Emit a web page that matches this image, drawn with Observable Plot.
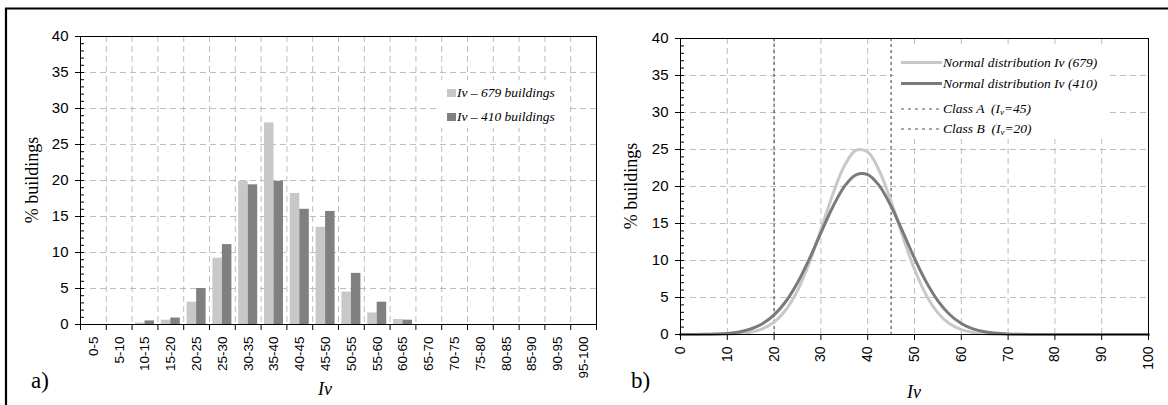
<!DOCTYPE html>
<html><head><meta charset="utf-8">
<script src="https://cdn.jsdelivr.net/npm/d3@7"></script>
<script src="https://cdn.jsdelivr.net/npm/@observablehq/plot@0.6"></script>
<style>
body{margin:0;background:#fff;}
#wrap{position:relative;width:1168px;height:405px;overflow:hidden;background:#fff;}
#wrap > svg, #wrap > figure{position:absolute;margin:0;}
</style></head><body><div id="wrap"></div>
<script>
// ---- data ----
const categories = ["0-5","5-10","10-15","15-20","20-25","25-30","30-35","35-40","40-45","45-50","50-55","55-60","60-65","65-70","70-75","75-80","80-85","85-90","90-95","95-100"];
const iv679 = [0,0,0.2,0.6,3.1,9.2,19.9,28.0,18.2,13.5,4.5,1.6,0.7,0,0,0,0,0,0,0];
const iv410 = [0,0,0.5,0.9,5.0,11.1,19.4,19.9,16.0,15.7,7.1,3.1,0.6,0,0,0,0,0,0,0];
const curveX = [0,2.5,5,7.5,10,12.5,15,17.5,20,22.5,25,27.5,30,32.5,35,37.5,40,42.5,45,47.5,50,52.5,55,57.5,60,62.5,65,67.5,70,72.5,75,77.5,80,82.5,85,87.5,90,92.5,95,97.5,100];
const normal679 = [0,0,0,0.01,0.04,0.12,0.32,0.77,1.67,3.31,5.93,9.64,14.17,18.87,22.78,24.9,24.66,22.1,17.97,13.22,8.81,5.33,2.92,1.44,0.65,0.26,0.1,0.03,0.01,0,0,0,0,0,0,0,0,0,0,0,0];
const normal410 = [0,0.01,0.02,0.06,0.15,0.35,0.74,1.45,2.64,4.46,6.99,10.17,13.73,17.2,19.99,21.58,21.61,20.09,17.33,13.87,10.31,7.11,4.55,2.7,1.49,0.76,0.36,0.16,0.07,0.03,0.01,0,0,0,0,0,0,0,0,0,0];
const classA = 45, classB = 20;
const yTicks = [0,5,10,15,20,25,30,35,40];
const yMinor = d3.range(1,40);
const xTicksB = [0,10,20,30,40,50,60,70,80,90,100];

const LIGHT = "#c8c8c8", DARK = "#808080", GRID = "#bdbdbd";
const sans = "'Liberation Sans', Arial, sans-serif";
const serif = "'Liberation Serif', 'Times New Roman', serif";

const rows = categories.map((c, i) => {
  const [lo, hi] = c.split("-").map(Number);
  return {c, lo, hi, mid: (lo + hi) / 2, v679: iv679[i], v410: iv410[i]};
});
const bounds = [0, ...rows.map(d => d.hi)];
const labelByMid = new Map(rows.map(d => [d.mid, d.c]));

const wrap = document.getElementById("wrap");

// ---- panel a ----
const pa = Plot.plot({
  width: 598, height: 405,
  marginLeft: 80, marginRight: 2, marginTop: 36, marginBottom: 81,
  style: {fontFamily: sans, fontSize: "14px", background: "transparent", color: "black"},
  x: {type: "linear", domain: [0, 100], label: null},
  y: {domain: [0, 40], label: null},
  marks: [
    Plot.gridY(yTicks.filter(d => d > 0 && d < 40), {stroke: GRID, strokeOpacity: 1, strokeDasharray: "6,4"}),
    Plot.gridX(bounds.filter(d => d > 0 && d < 100), {stroke: GRID, strokeOpacity: 1, strokeDasharray: "6,4"}),
    Plot.rectY(rows.filter(d => d.v679 > 0), {x1: "lo", x2: "hi", y: "v679", fill: LIGHT, insetLeft: 3.4, insetRight: 12.9}),
    Plot.rectY(rows.filter(d => d.v410 > 0), {x1: "lo", x2: "hi", y: "v410", fill: DARK, insetLeft: 12.9, insetRight: 3.4}),
    Plot.frame({stroke: "black"}),
    Plot.tickY(yMinor, {y: d => d, stroke: "black", insetRight: 512}),
    Plot.axisY({ticks: yTicks, tickSize: 5, tickPadding: 7, fontSize: 15, label: null}),
    Plot.axisX({ticks: bounds, tickSize: 6, tickFormat: () => "", label: null}),
    Plot.axisX({ticks: rows.map(d => d.mid), tickSize: 0, tickPadding: 12, tickRotate: -90, tickFormat: d => labelByMid.get(d), fontSize: 13.5, label: null})
  ]
});
pa.style.left = "0px"; pa.style.top = "0px";
wrap.appendChild(pa);

// ---- panel b ----
const curves = curveX.map((x, i) => ({x, a: normal679[i], b: normal410[i]}));
const pb = Plot.plot({
  width: 570, height: 405,
  marginLeft: 82, marginRight: 20, marginTop: 38, marginBottom: 71,
  style: {fontFamily: sans, fontSize: "14px", background: "transparent", color: "black"},
  x: {domain: [0, 100], label: null},
  y: {domain: [0, 40], label: null},
  marks: [
    Plot.gridY(yTicks.filter(d => d > 0 && d < 40), {stroke: GRID, strokeOpacity: 1, strokeDasharray: "6,4"}),
    Plot.gridX(xTicksB.filter(d => d > 0 && d < 100), {stroke: GRID, strokeOpacity: 1, strokeDasharray: "6,4"}),
    Plot.ruleX([classA, classB], {stroke: "#666", strokeWidth: 1.3, strokeDasharray: "3,3"}),
    Plot.line(curves, {x: "x", y: "a", stroke: LIGHT, strokeWidth: 3, curve: "catmull-rom"}),
    Plot.line(curves, {x: "x", y: "b", stroke: "#7a7a7a", strokeWidth: 3, curve: "catmull-rom"}),
    Plot.frame({stroke: "black"}),
    Plot.tickY(yMinor, {y: d => d, stroke: "black", insetRight: 464}),
    Plot.axisY({ticks: yTicks, tickSize: 5, tickPadding: 7, fontSize: 15, label: null}),
    Plot.axisX({ticks: xTicksB, tickSize: 6, tickPadding: 6, tickRotate: -90, fontSize: 14, label: null})
  ]
});
pb.style.left = "598px"; pb.style.top = "0px";
wrap.appendChild(pb);

// ---- overlay: border, legends, titles ----
const ov = d3.select(wrap).append("svg")
  .attr("width", 1168).attr("height", 405)
  .style("left", "0px").style("top", "0px");

ov.append("line").attr("x1", 5).attr("x2", 1168).attr("y1", 8.5).attr("y2", 8.5).attr("stroke", "black").attr("stroke-width", 2.2);
ov.append("line").attr("x1", 6).attr("x2", 6).attr("y1", 8).attr("y2", 405).attr("stroke", "black").attr("stroke-width", 2.2);

// legend a
ov.append("rect").attr("x", 436).attr("y", 80).attr("width", 130).attr("height", 48).attr("fill", "white");
const legA = [{t: "Iv – 679 buildings", c: LIGHT, y: 89}, {t: "Iv – 410 buildings", c: DARK, y: 113}];
legA.forEach(d => {
  ov.append("rect").attr("x", 447).attr("y", d.y).attr("width", 9).attr("height", 8).attr("fill", d.c);
  ov.append("text").attr("x", 457).attr("y", d.y + 8).attr("font-family", serif).attr("font-style", "italic").attr("font-size", 13.5).text(d.t);
});

// legend b
ov.append("rect").attr("x", 894).attr("y", 45).attr("width", 216).attr("height", 94).attr("fill", "white");
ov.append("line").attr("x1", 901).attr("x2", 942).attr("y1", 62.5).attr("y2", 62.5).attr("stroke", LIGHT).attr("stroke-width", 3);
ov.append("line").attr("x1", 901).attr("x2", 942).attr("y1", 83.5).attr("y2", 83.5).attr("stroke", "#7a7a7a").attr("stroke-width", 3);
ov.append("line").attr("x1", 901).attr("x2", 942).attr("y1", 109).attr("y2", 109).attr("stroke", "#555").attr("stroke-width", 1.2).attr("stroke-dasharray", "3,4");
ov.append("line").attr("x1", 901).attr("x2", 942).attr("y1", 129).attr("y2", 129).attr("stroke", "#555").attr("stroke-width", 1.2).attr("stroke-dasharray", "3,4");
const tb = (y) => ov.append("text").attr("x", 943).attr("y", y).attr("font-family", serif).attr("font-style", "italic").attr("font-size", 13.5).style("white-space", "pre");
tb(66.5).text("Normal distribution Iv (679)");
tb(87.5).text("Normal distribution Iv (410)");
[{y: 113, n: "A", v: classA}, {y: 133, n: "B", v: classB}].forEach(d => {
  const t = tb(d.y);
  t.append("tspan").text(`Class ${d.n}  (I`);
  t.append("tspan").attr("font-size", 9).attr("dy", 2).text("v");
  t.append("tspan").attr("dy", -2).text(`=${d.v})`);
});

// axis titles
const ylab = (x, y) => ov.append("text").attr("transform", `translate(${x},${y}) rotate(-90)`).attr("text-anchor", "middle")
  .attr("font-family", serif).attr("font-size", 18).text("% buildings");
ylab(38, 180); ylab(637, 186);
const xlab = (x, y) => ov.append("text").attr("x", x).attr("y", y).attr("text-anchor", "middle")
  .attr("font-family", serif).attr("font-style", "italic").attr("font-size", 18).text("Iv");
xlab(325, 395); xlab(914, 398);
ov.append("text").attr("x", 31).attr("y", 388).attr("font-family", serif).attr("font-size", 23).text("a)");
ov.append("text").attr("x", 631).attr("y", 388).attr("font-family", serif).attr("font-size", 23).text("b)");
</script></body></html>
